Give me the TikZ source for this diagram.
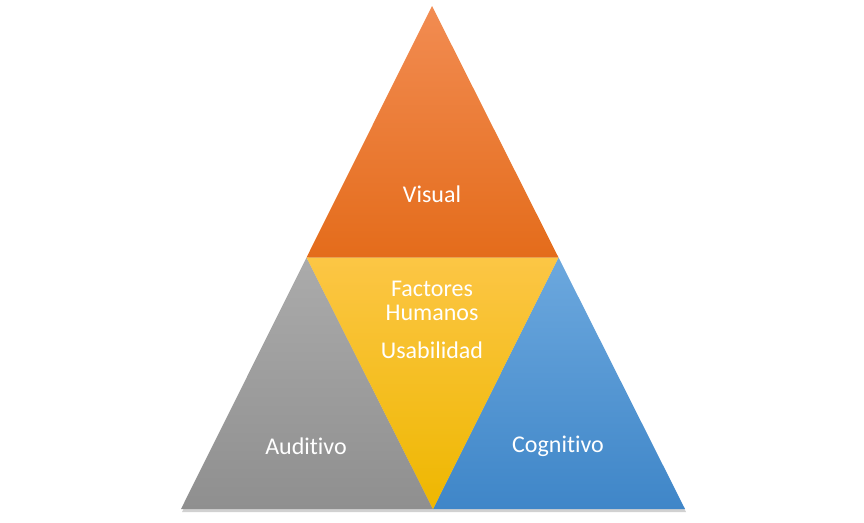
\documentclass[tikz,border=0pt]{standalone}
\usepackage{fontspec}
\setmainfont[Ligatures={NoCommon}]{Carlito}
\usetikzlibrary{shadows}
\definecolor{orT}{HTML}{F28C52}
\definecolor{orB}{HTML}{E46C1B}
\definecolor{yeT}{HTML}{FCC645}
\definecolor{yeB}{HTML}{EEB700}
\definecolor{grT}{HTML}{ABABAB}
\definecolor{grB}{HTML}{8F8F8F}
\definecolor{blT}{HTML}{6CA8DE}
\definecolor{blB}{HTML}{3F86C8}
\tikzset{
  lbl/.style={text=white, font=\fontsize{24}{25}\selectfont, align=center, inner sep=0pt},
  tri/.style={draw=none},
}
\begin{document}
\begin{tikzpicture}[x=1pt,y=-1pt]
\useasboundingbox (0,0) rectangle (864,522);
\coordinate (A) at (432,6);
\coordinate (L) at (181,509);
\coordinate (R) at (685,509);
\coordinate (ML) at (306.5,257.5);
\coordinate (MR) at (558.5,257.5);
\coordinate (MB) at (433,509);
% shadow
\fill[black, opacity=0.18] ([shift={(1,3)}]A) -- ([shift={(1,3)}]L) -- ([shift={(1,3)}]R) -- cycle;
% triangles
\shade[tri, top color=orT, bottom color=orB] (A) -- (ML) -- (MR) -- cycle;
\shade[tri, top color=grT, bottom color=grB] (ML) -- (L) -- (MB) -- cycle;
\shade[tri, top color=blT, bottom color=blB] (MR) -- (MB) -- (R) -- cycle;
\shade[tri, top color=yeT, bottom color=yeB] (ML) -- (MR) -- (MB) -- cycle;
% labels
\node[lbl] (visual) at (432,194) {Visual};
\node[lbl] (fh) at (432,301) {Factores\\[-1pt]Humanos};
\node[lbl] (usa) at (432,350) {Usabilidad};
\node[lbl] (aud) at (306,446) {Auditivo};
\node[lbl] (cog) at (558,446) {Cognitivo};
\end{tikzpicture}
\end{document}
